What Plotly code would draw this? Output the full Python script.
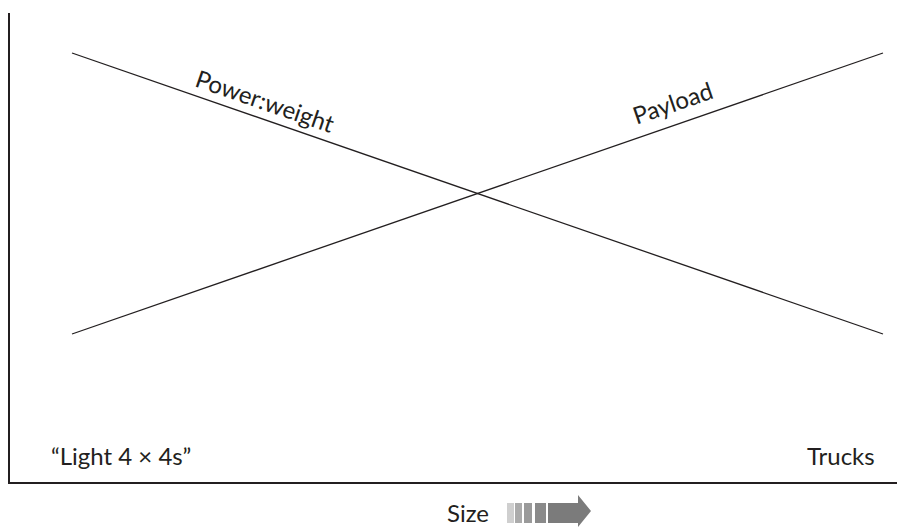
import plotly.graph_objects as go

# Trade-off sketch: vehicle size from "Light 4x4s" to Trucks
SIZE_X        = [1, 9]
POWER_WEIGHT  = [4, 1]
PAYLOAD       = [1, 4]
LINE_LABELS   = ["Power:weight", "Payload"]
END_LABELS    = ["\u201cLight 4 \u00d7 4s\u201d", "Trucks"]
AXIS_TITLE    = "Size"

INK  = "#231f20"
FONT = "Lato, 'Open Sans', sans-serif"

W, H = 897, 527
L, T, B = 10, 13, 482          # plot area edges in pixels


def px(x):
    return (x - L) / (W - L)


def py(y):
    return (B - y) / (B - T)


fig = go.Figure()

fig.add_trace(go.Scatter(
    x=SIZE_X, y=POWER_WEIGHT, mode="lines",
    line=dict(color=INK, width=1.3), hoverinfo="skip", showlegend=False,
))
fig.add_trace(go.Scatter(
    x=SIZE_X, y=PAYLOAD, mode="lines",
    line=dict(color=INK, width=1.3), hoverinfo="skip", showlegend=False,
))

lbl_font = dict(size=24, color=INK, family=FONT)
annotations = [
    dict(x=px(265), y=py(100), xref="paper", yref="paper", text=LINE_LABELS[0],
         textangle=19, xanchor="center", yanchor="middle", showarrow=False, font=lbl_font),
    dict(x=px(672), y=py(102), xref="paper", yref="paper", text=LINE_LABELS[1],
         textangle=-19, xanchor="center", yanchor="middle", showarrow=False, font=lbl_font),
    dict(x=px(49), y=py(455), xref="paper", yref="paper", text=END_LABELS[0],
         xanchor="left", yanchor="middle", showarrow=False, font=lbl_font),
    dict(x=px(877), y=py(455), xref="paper", yref="paper", text=END_LABELS[1],
         xanchor="right", yanchor="middle", showarrow=False, font=lbl_font),
    dict(x=px(468), y=py(512), xref="paper", yref="paper", text=AXIS_TITLE,
         xanchor="center", yanchor="middle", showarrow=False, font=lbl_font),
]

# gradient arrow next to "Size"
shapes = []
blocks = [(507, 514, "#cfcfcf"), (515, 522, "#ababab"), (524, 532, "#9a9a9a"), (535, 546, "#8a8a8a")]
for x0, x1, c in blocks:
    shapes.append(dict(type="rect", xref="paper", yref="paper",
                       x0=px(x0), x1=px(x1), y0=py(523), y1=py(503),
                       fillcolor=c, line=dict(width=0)))
path = "M {} {} L {} {} L {} {} L {} {} L {} {} L {} {} L {} {} Z".format(
    px(548), py(503), px(578), py(503), px(578), py(495), px(591), py(511),
    px(578), py(527), px(578), py(523), px(548), py(523))
shapes.append(dict(type="path", xref="paper", yref="paper", path=path,
                   fillcolor="#7b7b7b", line=dict(width=0)))

# x range chosen so that SIZE_X land at pixel 72 and 883
ppx = (883 - 72) / (SIZE_X[1] - SIZE_X[0])
xr = [SIZE_X[0] - (72 - L) / ppx, SIZE_X[1] + (W - 883) / ppx]
ppy = (334 - 53) / (max(PAYLOAD) - min(PAYLOAD))
yr = [min(PAYLOAD) - (B - 334) / ppy, max(PAYLOAD) + (53 - T) / ppy]

fig.update_layout(
    width=W, height=H,
    margin=dict(l=L, r=0, t=T, b=H - B),
    plot_bgcolor="white", paper_bgcolor="white",
    annotations=annotations, shapes=shapes,
    showlegend=False,
)
fig.update_xaxes(range=xr, showgrid=False, zeroline=False, showticklabels=False,
                 showline=True, linecolor=INK, linewidth=2, ticks="")
fig.update_yaxes(range=yr, showgrid=False, zeroline=False, showticklabels=False,
                 showline=True, linecolor=INK, linewidth=2, ticks="")

fig.write_html("out.html", config={"displayModeBar": False},
               post_script="document.body.style.margin='0';document.body.style.overflow='hidden';")
